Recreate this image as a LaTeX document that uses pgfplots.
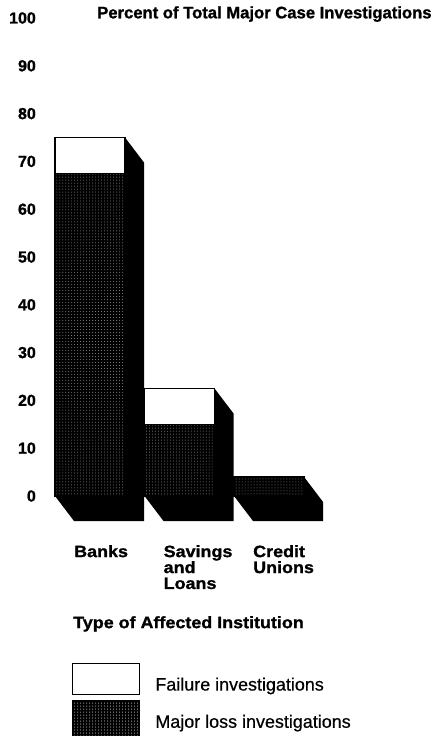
\documentclass[border=0pt]{standalone}
\usepackage{pgfplots}
\pgfplotsset{compat=1.18}
\usepackage{pgfplotstable}
\usepackage{fontspec}
\setmainfont{Liberation Sans}
\newfontfamily\fontB{Liberation Sans}[FakeStretch=1.09, FakeBold=1.2]
\newfontfamily\fontT{Liberation Sans}[FakeBold=1.2]
\newfontfamily\fontL{Liberation Sans}[FakeBold=0.6]
\usetikzlibrary{patterns}

\pgfplotstableread{
x major failure
90 67.5 7.5
179.5 15 7.5
269 4 0
}\datatable

\begin{document}
\begin{tikzpicture}
\begin{axis}[
  name=ax,
  scale only axis,
  width=438bp, height=736bp,
  xmin=0, xmax=438,
  ymin=-50.21, ymax=103.77,
  clip=false,
  axis line style={draw=none},
  tick style={draw=none},
  ytick={0,10,...,100},
  /pgf/number format/assume math mode=true,
  yticklabel style={anchor=east, xshift=36bp, inner sep=0pt, font=\fontT\bfseries\fontsize{16}{16}\selectfont},
  xtick={90,179.5,269},
  xticklabels={Banks, Savings\\and\\Loans, Credit\\Unions},
  xticklabel style={align=left, anchor=north west, inner sep=0pt, xshift=-16bp, yshift=191bp,
    font=\fontB\bfseries\fontsize{16.5}{16}\selectfont},
  xlabel={Type of Affected Institution},
  xlabel style={at={(axis description cs:0.1667,0.1630)}, anchor=north west, inner sep=0pt,
    font=\fontB\bfseries\fontsize{16.5}{16}\selectfont},
  title={Percent of Total Major Case Investigations},
  title style={at={(axis description cs:0.2215,0.9670)}, anchor=base west, inner sep=0pt,
    font=\fontT\bfseries\fontsize{16.7}{16}\selectfont},
  legend style={at={(axis cs:72,-34.94)}, anchor=north west, draw=none, fill=none,
    inner sep=0pt, row sep=5bp, column sep=15bp, legend cell align=left,
    nodes={inner sep=0pt}, font=\fontL\fontsize{18}{18}\selectfont},
]
% 3D extrusions (side and bottom faces)
\addplot[fill=black, draw=none, forget plot] coordinates {(55,0) (74,-5.23) (144,-5.23) (144,69.77) (125,75) (125,0)} -- cycle;
\addplot[fill=black, draw=none, forget plot] coordinates {(144.5,0) (163.5,-5.23) (233.5,-5.23) (233.5,17.27) (214.5,22.5) (214.5,0)} -- cycle;
\addplot[fill=black, draw=none, forget plot] coordinates {(234,0) (253,-5.23) (323,-5.23) (323,-1.23) (304,4) (304,0)} -- cycle;
% Failure investigations (stacked on top)
\addplot[ybar, bar width=70, bar shift=0pt, fill=white, draw=black, line width=1.2bp,
  legend image code/.code={\draw[fill=white, draw=black, line width=1.2bp] (0bp,-10bp) rectangle (67bp,21bp);}]
  table[x=x, y expr=\thisrow{major}+\thisrow{failure}] {\datatable};
\addlegendentry{Failure investigations}
% Major loss investigations
\addplot[ybar, bar width=70, bar shift=0pt, fill=black, draw=black, line width=1.2bp,
  postaction={pattern=dots, pattern color=black!45},
  legend image code/.code={\fill[black, postaction={pattern=dots, pattern color=black!45}] (0bp,-16bp) rectangle (67bp,21bp);}]
  table[x=x, y=major] {\datatable};
\addlegendentry{Major loss investigations}
\end{axis}
\pgfresetboundingbox
\useasboundingbox (ax.south west) rectangle (ax.north east);
\end{tikzpicture}
\end{document}
